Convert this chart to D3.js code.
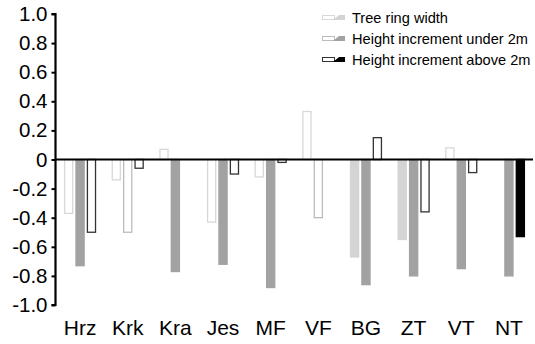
<!DOCTYPE html>
<html>
<head>
<meta charset="utf-8">
<script src="https://cdn.jsdelivr.net/npm/d3@7"></script>
<style>
  html, body { margin: 0; padding: 0; background: #fff; }
  svg { display: block; font-family: "Liberation Sans", Arial, sans-serif; }
</style>
</head>
<body>
<svg id="chart" width="535" height="344"></svg>
<script>
// Sites along the horizontal axis
const categories = ["Hrz", "Krk", "Kra", "Jes", "MF", "VF", "BG", "ZT", "VT", "NT"];

// Correlation coefficients per series (null = no bar)
const treeRing    = [-0.37, -0.14, 0.07, -0.43, -0.12, 0.33, -0.67, -0.55, 0.08, null];
const heightUnder = [-0.73, -0.50, -0.77, -0.72, -0.88, -0.40, -0.86, -0.80, -0.75, -0.80];
const heightAbove = [-0.50, -0.06, null, -0.10, -0.02, null, 0.15, -0.36, -0.09, -0.53];

// Significant coefficients are drawn filled, the rest as outlines
const treeRingSig    = [false, false, false, false, false, false, true, true, false, false];
const heightUnderSig = [true, false, true, true, true, false, true, true, true, true];
const heightAboveSig = [false, false, false, false, false, false, false, false, false, true];

const seriesNames = ["Tree ring width", "Height increment under 2m", "Height increment above 2m"];
const yTicks = [1.0, 0.8, 0.6, 0.4, 0.2, 0, -0.2, -0.4, -0.6, -0.8, -1.0];

const series = [
  { name: seriesNames[0], values: treeRing,    sig: treeRingSig,    fill: "#d4d4d4", stroke: "#d8d8d8" },
  { name: seriesNames[1], values: heightUnder, sig: heightUnderSig, fill: "#a2a2a2", stroke: "#bcbcbc" },
  { name: seriesNames[2], values: heightAbove, sig: heightAboveSig, fill: "#000000", stroke: "#333333" }
];

const svg = d3.select("#chart");

const x0 = d3.scaleBand()
  .domain(categories)
  .range([56, 533])
  .paddingInner(0.33)
  .paddingOuter(0.17);

const x1 = d3.scaleBand()
  .domain(d3.range(series.length))
  .range([0, x0.bandwidth()])
  .paddingInner(0.2);

const y = d3.scaleLinear().domain([-1, 1]).range([305, 14]);

// Bars
const groups = svg.append("g").selectAll("g")
  .data(series)
  .join("g");

groups.each(function (s, si) {
  const rows = categories.map((c, i) => ({ c, v: s.values[i], sig: s.sig[i] }))
    .filter(d => d.v !== null);
  d3.select(this).selectAll("rect")
    .data(rows)
    .join("rect")
    .attr("x", d => x0(d.c) + x1(si) + 0.5)
    .attr("width", x1.bandwidth() - 1)
    .attr("y", d => Math.min(y(d.v), y(0)))
    .attr("height", d => Math.abs(y(d.v) - y(0)))
    .attr("fill", d => d.sig ? s.fill : "#fff")
    .attr("stroke", d => d.sig ? s.fill : s.stroke)
    .attr("stroke-width", 1.3);
});

// Zero line
svg.append("line")
  .attr("x1", 55).attr("x2", 533)
  .attr("y1", y(0)).attr("y2", y(0))
  .attr("stroke", "#000").attr("stroke-width", 2.2);

// Y axis
const yAxis = d3.axisLeft(y)
  .tickValues(yTicks)
  .tickSize(4)
  .tickPadding(4)
  .tickFormat(d => d === 0 ? "0" : d.toFixed(1));

const gy = svg.append("g")
  .attr("transform", "translate(55.5,0)")
  .call(yAxis);
gy.select(".domain").attr("stroke-width", 2.2).attr("d", `M-4,${y(1)}H0V${y(-1)}H-4`);
gy.selectAll(".tick line").attr("stroke-width", 2);
gy.selectAll(".tick text")
  .attr("font-size", 20.5)
  .attr("font-family", "'Liberation Sans', Arial, sans-serif")
  .attr("fill", "#000");

// Category labels
svg.append("g").selectAll("text")
  .data(categories)
  .join("text")
  .attr("x", d => x0(d) + x0.bandwidth() / 2)
  .attr("y", 335)
  .attr("text-anchor", "middle")
  .attr("font-size", 21)
  .attr("fill", "#000")
  .text(d => d);

// Legend: outline half for non-significant, filled half for significant
const legend = svg.append("g").selectAll("g")
  .data(series)
  .join("g")
  .attr("transform", (d, i) => `translate(322,${17.5 + i * 21})`);

legend.append("rect")
  .attr("x", 0.5).attr("y", -2)
  .attr("width", 12).attr("height", 4)
  .attr("fill", "#fff")
  .attr("stroke", d => d.stroke)
  .attr("stroke-width", 1);

legend.append("path")
  .attr("d", "M11,2.5L17,-2.5H23V2.5Z")
  .attr("fill", d => d.fill);

legend.append("text")
  .attr("x", 30)
  .attr("y", 0)
  .attr("dy", "0.35em")
  .attr("font-size", 14.6)
  .attr("fill", "#000")
  .text(d => d.name);
</script>
</body>
</html>
